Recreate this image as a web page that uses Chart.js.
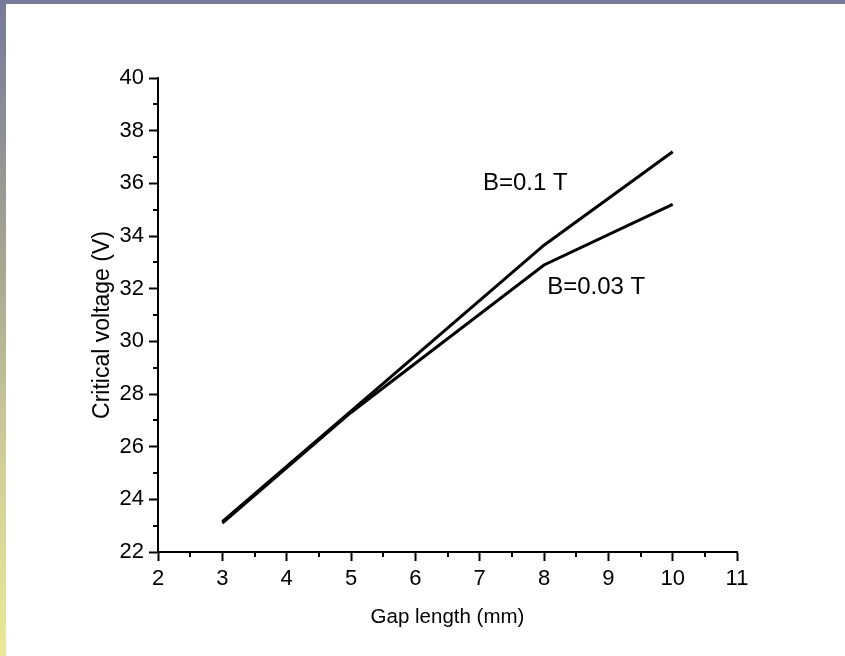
<!DOCTYPE html>
<html>
<head>
<meta charset="utf-8">
<script src="https://cdn.jsdelivr.net/npm/chart.js@4/dist/chart.umd.min.js"></script>
<style>
  html, body { margin: 0; padding: 0; background: #ffffff; width: 845px; height: 656px; overflow: hidden; }
  #topbar { position: absolute; left: 0; top: 0; width: 845px; height: 4px; background: #777a9a; }
  #leftbar { position: absolute; left: 0; top: 0; width: 6px; height: 656px; background: linear-gradient(to bottom, #77799b 0%, #a6a690 40%, #cfcf99 70%, #e9e996 100%); }
  #wrap { position: absolute; left: 0; top: 0; width: 845px; height: 656px; }
</style>
</head>
<body>
<div id="topbar"></div>
<div id="leftbar"></div>
<div id="wrap"><canvas id="c" width="845" height="656"></canvas></div>
<script>
// ---- data ----
const gapLength = [3, 5, 8, 10];
const seriesB01 = [23.15, 27.35, 33.65, 37.2];
const seriesB003 = [23.1, 27.3, 32.9, 35.2];
const seriesNames = ['B=0.1 T', 'B=0.03 T'];
const xTicks = [2, 3, 4, 5, 6, 7, 8, 9, 10, 11];
const yTicks = [22, 24, 26, 28, 30, 32, 34, 36, 38, 40];
const xMinorTicks = [2.5, 3.5, 4.5, 5.5, 6.5, 7.5, 8.5, 9.5, 10.5];
const yMinorTicks = [23, 25, 27, 29, 31, 33, 35, 37, 39];
// label anchor points in data units (x, y baseline)
const labelX = [7.05, 8.05];
const labelY = [35.75, 31.8];
const yTitle = 'Critical voltage (V)';

const FONT = 'Arial, "Liberation Sans", sans-serif';

const minorTicksPlugin = {
  id: 'minorTicks',
  afterDraw(chart) {
    const ctx = chart.ctx;
    const xs = chart.scales.x, ys = chart.scales.y;
    const area = chart.chartArea;
    ctx.save();
    ctx.strokeStyle = '#000';
    ctx.lineWidth = 2;
    ctx.beginPath();
    xMinorTicks.forEach(v => {
      const px = Math.round(xs.getPixelForValue(v));
      ctx.moveTo(px, area.bottom);
      ctx.lineTo(px, area.bottom + 5);
    });
    yMinorTicks.forEach(v => {
      const py = Math.round(ys.getPixelForValue(v));
      ctx.moveTo(area.left, py);
      ctx.lineTo(area.left - 5, py);
    });
    ctx.stroke();
    // y axis title
    ctx.fillStyle = '#000';
    ctx.font = '23px ' + FONT;
    ctx.textAlign = 'center';
    ctx.textBaseline = 'middle';
    ctx.translate(area.left - 55, (area.top + area.bottom) / 2 + 10);
    ctx.rotate(-Math.PI / 2);
    ctx.fillText(yTitle, 0, 0);
    ctx.restore();
  }
};

const seriesLabelPlugin = {
  id: 'seriesLabels',
  afterDatasetsDraw(chart) {
    const ctx = chart.ctx;
    const xs = chart.scales.x, ys = chart.scales.y;
    ctx.save();
    ctx.fillStyle = '#000';
    ctx.font = '24px ' + FONT;
    ctx.textAlign = 'left';
    ctx.textBaseline = 'alphabetic';
    seriesNames.forEach((name, i) => {
      ctx.fillText(name, xs.getPixelForValue(labelX[i]), ys.getPixelForValue(labelY[i]));
    });
    ctx.restore();
  }
};

const tickCfg = { color: '#000', font: { family: FONT, size: 22 } };

new Chart(document.getElementById('c'), {
  type: 'line',
  data: {
    labels: gapLength,
    datasets: [
      { label: seriesNames[0], data: gapLength.map((x, i) => ({ x, y: seriesB01[i] })), borderColor: '#000', borderWidth: 3, pointRadius: 0, tension: 0, fill: false },
      { label: seriesNames[1], data: gapLength.map((x, i) => ({ x, y: seriesB003[i] })), borderColor: '#000', borderWidth: 3, pointRadius: 0, tension: 0, fill: false }
    ]
  },
  options: {
    responsive: false,
    animation: false,
    devicePixelRatio: 1,
    layout: { padding: { left: 0, top: 78, right: 108, bottom: 0 } },
    plugins: { legend: { display: false }, tooltip: { enabled: false } },
    scales: {
      x: {
        type: 'linear', min: 2, max: 11,
        afterBuildTicks(s) { s.ticks = xTicks.map(v => ({ value: v })); },
        afterFit(s) { s.height = 104; },
        ticks: Object.assign({ padding: 5, maxRotation: 0 }, tickCfg),
        grid: { drawOnChartArea: false, drawTicks: true, tickLength: 9, tickWidth: 2, tickColor: '#000' },
        border: { display: true, color: '#000', width: 2 },
        title: { display: true, text: 'Gap length (mm)', color: '#000', font: { family: FONT, size: 20.5 }, padding: { top: 0, bottom: 26 } }
      },
      y: {
        type: 'linear', min: 22, max: 40,
        afterBuildTicks(s) { s.ticks = yTicks.map(v => ({ value: v })); },
        afterFit(s) { s.width = 158; },
        ticks: Object.assign({ padding: 5 }, tickCfg),
        grid: { drawOnChartArea: false, drawTicks: true, tickLength: 9, tickWidth: 2, tickColor: '#000' },
        border: { display: true, color: '#000', width: 2 },
        title: { display: false }
      }
    }
  },
  plugins: [minorTicksPlugin, seriesLabelPlugin]
});
</script>
</body>
</html>
